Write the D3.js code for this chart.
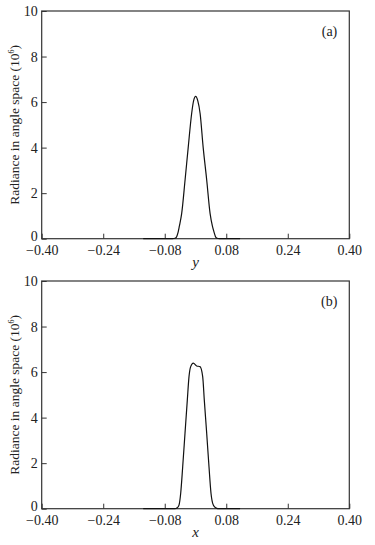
<!DOCTYPE html>
<html>
<head>
<meta charset="utf-8">
<script src="https://cdn.jsdelivr.net/npm/d3@7"></script>
<style>
  body { margin: 0; background: #fff; }
  svg text { font-family: "Liberation Serif", "Times New Roman", serif; fill: #222; }
</style>
</head>
<body>
<div id="chart"></div>
<script>
// tick labels
const xTicks = [-0.4, -0.24, -0.08, 0.08, 0.24, 0.4];
const yTicks = [0, 2, 4, 6, 8, 10];

// panel (a): radiance vs y
const posA = [-0.136, -0.06, -0.053, -0.049, -0.045, -0.042, -0.036, -0.027, -0.019, -0.010, -0.005, 0.0005, 0.006, 0.012, 0.020, 0.029, 0.038, 0.044, 0.048, 0.052, 0.056, 0.062, 0.116];
const radA = [0, 0, 0.02, 0.09, 0.3, 0.55, 1.1, 2.6, 4.0, 5.5, 6.05, 6.25, 6.05, 5.5, 4.0, 2.6, 1.1, 0.55, 0.3, 0.09, 0.02, 0, 0];

// panel (b): radiance vs x
const posB = [-0.136, -0.056, -0.051, -0.0473, -0.0429, -0.0385, -0.0333, -0.0273, -0.0213, -0.0169, -0.0125, -0.0057, 0.0031, 0.0117, 0.0187, 0.0229, 0.0291, 0.0351, 0.0403, 0.0463, 0.0525, 0.058, 0.116];
const radB = [0, 0, 0.01, 0.04, 0.16, 0.68, 1.84, 3.31, 4.77, 5.8, 6.24, 6.39, 6.27, 6.24, 5.8, 4.77, 3.31, 1.84, 0.68, 0.16, 0.04, 0, 0];

const W = 375, H = 545;
const plotW = 307.6, plotH = 227.7;
const left = 41.7;

const svg = d3.select('#chart').append('svg')
  .attr('width', W)
  .attr('height', H);

const x = d3.scaleLinear().domain([-0.4, 0.4]).range([0, plotW]);
const y = d3.scaleLinear().domain([0, 10]).range([plotH, 0]);

function fmtX(d) {
  return (d < 0 ? '\u2212' : '') + Math.abs(d).toFixed(2);
}

function drawPanel(top, xs, ys, tag, varName) {
  const g = svg.append('g').attr('transform', `translate(${left},${top})`);

  // frame
  g.append('rect')
    .attr('width', plotW)
    .attr('height', plotH)
    .attr('fill', 'none')
    .attr('stroke', '#333')
    .attr('stroke-width', 1.2);

  // x axis, ticks pointing inward
  const xa = g.append('g')
    .attr('transform', `translate(0,${plotH})`)
    .call(d3.axisBottom(x).tickValues(xTicks).tickSizeInner(-5).tickSizeOuter(0).tickFormat(fmtX));
  xa.select('.domain').remove();
  xa.selectAll('line').attr('stroke', '#333');
  xa.selectAll('text')
    .attr('y', 6)
    .attr('dy', '0.71em')
    .style('font-size', '14px');

  // y axis
  const ya = g.append('g')
    .call(d3.axisLeft(y).tickValues(yTicks).tickSizeInner(-5).tickSizeOuter(0));
  ya.select('.domain').remove();
  ya.selectAll('line').attr('stroke', '#333');
  ya.selectAll('text')
    .attr('x', -4)
    .attr('dy', d => d === 0 ? '0.1em' : '0.32em')
    .style('font-size', '14px');

  // curve
  const pts = xs.map((d, i) => [d, ys[i]]);
  g.append('path')
    .datum(pts)
    .attr('fill', 'none')
    .attr('stroke', '#111')
    .attr('stroke-width', 1.2)
    .attr('d', d3.line()
      .x(d => x(d[0]))
      .y(d => y(d[1]))
      .curve(d3.curveMonotoneX));

  // panel tag
  g.append('text')
    .attr('x', plotW - 12)
    .attr('y', 25)
    .attr('text-anchor', 'end')
    .style('font-size', '14px')
    .text(tag);

  // axis titles
  g.append('text')
    .attr('x', x(0))
    .attr('y', plotH + 28)
    .attr('text-anchor', 'middle')
    .style('font-size', '15px')
    .style('font-style', 'italic')
    .text(varName);

  const yl = g.append('text')
    .attr('transform', `translate(-23,${plotH / 2}) rotate(-90)`)
    .attr('text-anchor', 'middle')
    .style('font-size', '13.5px')
    .text('Radiance in angle space (10');
  yl.append('tspan')
    .attr('dy', -5)
    .style('font-size', '8px')
    .text('6');
  yl.append('tspan')
    .attr('dy', 5)
    .text(')');
}

drawPanel(11, posA, radA, '(a)', 'y');
drawPanel(281, posB, radB, '(b)', 'x');
</script>
</body>
</html>
